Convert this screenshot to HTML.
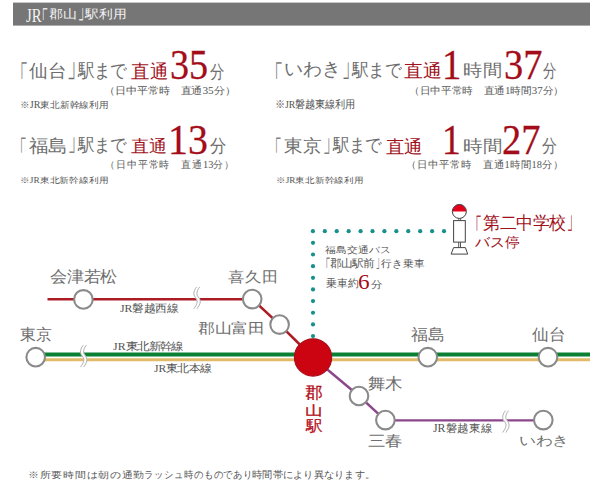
<!DOCTYPE html>
<html lang="ja"><head><meta charset="utf-8"><title>郡山駅利用</title>
<style>
html,body{margin:0;padding:0;background:#fff;}
body{width:600px;height:485px;position:relative;overflow:hidden;font-family:"Liberation Serif",serif;}
svg{position:absolute;left:0;top:0;}
.t{position:absolute;white-space:nowrap;line-height:1;transform-origin:0 0;}
.l{display:inline-block;}
</style></head><body>
<svg width="600" height="485" viewBox="0 0 600 485">
<rect x="13" y="2.6" width="577" height="23" fill="#767676"/>
<path d="M47.5,299.3 H252" stroke="#ab1c24" stroke-width="2.6" fill="none"/>
<path d="M252.2,299.1 L279.6,324.6 L313,357.5" stroke="#ab1c24" stroke-width="2.6" fill="none"/>
<path d="M36,354.55 H590" stroke="#0b8035" stroke-width="4" fill="none"/>
<path d="M36,359.75 H590" stroke="#e2bb6a" stroke-width="3.1" fill="none"/>
<path d="M313,357.5 L359,396 L385.4,420.4 H543" stroke="#8c468b" stroke-width="2.4" fill="none"/>
<path d="M198.20,286.90 C196.30,289.20 195.35,291.50 195.35,293.80 C195.35,296.90 198.75,298.20 198.75,301.30 C198.75,304.40 196.70,306.70 195.35,308.80" stroke="#fff" stroke-width="3.5" fill="none"/><path d="M196.65,286.90 C194.75,289.20 193.80,291.50 193.80,293.80 C193.80,296.90 197.20,298.20 197.20,301.30 C197.20,304.40 195.15,306.70 193.80,308.80" stroke="#a0a0a0" stroke-width="0.85" fill="none"/><path d="M199.75,286.90 C197.85,289.20 196.90,291.50 196.90,293.80 C196.90,296.90 200.30,298.20 200.30,301.30 C200.30,304.40 198.25,306.70 196.90,308.80" stroke="#a0a0a0" stroke-width="0.85" fill="none"/>
<path d="M84.85,345.20 C82.95,347.50 82.00,349.80 82.00,352.10 C82.00,355.20 85.40,356.50 85.40,359.60 C85.40,362.70 83.35,365.00 82.00,367.10" stroke="#fff" stroke-width="3.5" fill="none"/><path d="M83.30,345.20 C81.40,347.50 80.45,349.80 80.45,352.10 C80.45,355.20 83.85,356.50 83.85,359.60 C83.85,362.70 81.80,365.00 80.45,367.10" stroke="#a0a0a0" stroke-width="0.85" fill="none"/><path d="M86.40,345.20 C84.50,347.50 83.55,349.80 83.55,352.10 C83.55,355.20 86.95,356.50 86.95,359.60 C86.95,362.70 84.90,365.00 83.55,367.10" stroke="#a0a0a0" stroke-width="0.85" fill="none"/>
<path d="M507.05,410.60 C505.15,412.90 504.20,415.20 504.20,417.50 C504.20,420.60 507.60,421.90 507.60,425.00 C507.60,428.10 505.55,430.40 504.20,432.50" stroke="#fff" stroke-width="3.5" fill="none"/><path d="M505.50,410.60 C503.60,412.90 502.65,415.20 502.65,417.50 C502.65,420.60 506.05,421.90 506.05,425.00 C506.05,428.10 504.00,430.40 502.65,432.50" stroke="#a0a0a0" stroke-width="0.85" fill="none"/><path d="M508.60,410.60 C506.70,412.90 505.75,415.20 505.75,417.50 C505.75,420.60 509.15,421.90 509.15,425.00 C509.15,428.10 507.10,430.40 505.75,432.50" stroke="#a0a0a0" stroke-width="0.85" fill="none"/>
<g fill="#17908c"><circle cx="312.90" cy="231.2" r="2.1"/><circle cx="324.82" cy="231.2" r="2.1"/><circle cx="336.74" cy="231.2" r="2.1"/><circle cx="348.66" cy="231.2" r="2.1"/><circle cx="360.58" cy="231.2" r="2.1"/><circle cx="372.50" cy="231.2" r="2.1"/><circle cx="384.42" cy="231.2" r="2.1"/><circle cx="396.34" cy="231.2" r="2.1"/><circle cx="408.26" cy="231.2" r="2.1"/><circle cx="420.18" cy="231.2" r="2.1"/><circle cx="432.10" cy="231.2" r="2.1"/><circle cx="444.02" cy="231.2" r="2.1"/><circle cx="313" cy="242.85" r="2.1"/><circle cx="313" cy="254.50" r="2.1"/><circle cx="313" cy="266.15" r="2.1"/><circle cx="313" cy="277.80" r="2.1"/><circle cx="313" cy="289.45" r="2.1"/><circle cx="313" cy="301.10" r="2.1"/><circle cx="313" cy="312.75" r="2.1"/><circle cx="313" cy="324.40" r="2.1"/><circle cx="313" cy="336.05" r="2.1"/></g>
<circle cx="35.7" cy="357.2" r="9.3" fill="#fff" stroke="#8a8a8a" stroke-width="2.1"/>
<circle cx="83.4" cy="299.4" r="9.3" fill="#fff" stroke="#8a8a8a" stroke-width="2.1"/>
<circle cx="252.2" cy="299.1" r="9.3" fill="#fff" stroke="#8a8a8a" stroke-width="2.1"/>
<circle cx="279.6" cy="324.6" r="9.3" fill="#fff" stroke="#8a8a8a" stroke-width="2.1"/>
<circle cx="427.8" cy="357.2" r="9.3" fill="#fff" stroke="#8a8a8a" stroke-width="2.1"/>
<circle cx="548" cy="357.2" r="9.3" fill="#fff" stroke="#8a8a8a" stroke-width="2.1"/>
<circle cx="359" cy="396" r="9.3" fill="#fff" stroke="#8a8a8a" stroke-width="2.1"/>
<circle cx="385.4" cy="420.1" r="9.3" fill="#fff" stroke="#8a8a8a" stroke-width="2.1"/>
<circle cx="543.3" cy="420.1" r="9.3" fill="#fff" stroke="#8a8a8a" stroke-width="2.1"/>
<circle cx="313.05" cy="357.45" r="18.6" fill="#cc0412" stroke="#a8101a" stroke-width="1.2"/>
<path d="M452.35,211.6 A7,7 0 0 1 466.35,211.6 Z" fill="#e3001b"/>
<circle cx="459.35" cy="211.45" r="7" fill="none" stroke="#3a3a3a" stroke-width="1"/>
<path d="M458.8,218.5 V220.6 M460.6,218.5 V220.6" stroke="#444" stroke-width="0.8"/>
<rect x="453.6" y="220.6" width="11.7" height="21.5" fill="#fff" stroke="#444" stroke-width="1"/>
<path d="M458.7,242.1 V247.6 M460.5,242.1 V247.6" stroke="#444" stroke-width="0.9"/>
<path d="M453.6,247.6 H465.4 L467.7,254.1 H451.1 Z" fill="#fff" stroke="#444" stroke-width="1"/>
</svg>
<div id="hdr1" class="t" style="left:26.39px;top:6.95px;font-size:14.5px;color:#f4f4f4;transform:scale(1.0152,1.2569)">JR</div>
<div id="hdr2" class="t" style="left:34.94px;top:8.94px;font-size:13.9px;color:#f4f4f4;transform:scale(0.9783,1.6706);-webkit-text-stroke:0.12px #f4f4f4">「</div>
<div id="hdr3" class="t" style="left:49.22px;top:8.20px;font-size:13.3px;color:#f4f4f4;transform:scale(1.0879,0.9302)">郡山</div>
<div id="hdr4" class="t" style="left:78.21px;top:-0.67px;font-size:13.9px;color:#f4f4f4;transform:scale(0.8805,1.7569);-webkit-text-stroke:0.12px #f4f4f4">」</div>
<div id="hdr5" class="t" style="left:84.53px;top:8.34px;font-size:13.9px;color:#f4f4f4;transform:scale(1.0042,0.8756)">駅利用</div>
<div id="r1l_a1" class="t" style="left:12.02px;top:62.18px;font-size:19.5px;color:#6e6e6e;transform:scale(0.8270,1.6854);-webkit-text-stroke:0.12px #6e6e6e">「</div>
<div id="r1l_a2" class="t" style="left:29.01px;top:62.07px;font-size:19.5px;color:#6e6e6e;transform:scale(0.9650,0.9281)">仙台</div>
<div id="r1l_a3" class="t" style="left:67.36px;top:49.12px;font-size:19.8px;color:#6e6e6e;transform:scale(0.9012,1.7125);-webkit-text-stroke:0.12px #6e6e6e">」</div>
<div id="r1l_a4" class="t" style="left:78.45px;top:61.44px;font-size:20.1px;color:#6e6e6e;transform:scale(0.8080,0.9218)">駅まで</div>
<div id="r1l_b" class="t" style="left:130.84px;top:62.71px;font-size:18.6px;color:#a1111c;transform:scale(0.9867,1.0147)">直通</div>
<div id="r1l_c" class="t" style="left:169.91px;top:44.05px;font-size:44.0px;color:#a30c19;transform:scale(0.8668,0.9704);-webkit-text-stroke:0.3px #a30c19">35</div>
<div id="r1l_d" class="t" style="left:210.00px;top:63.80px;font-size:17.5px;color:#6e6e6e;transform:scale(0.8117,1.0236)">分</div>
<div id="r1l_e" class="t" style="left:103.80px;top:85.62px;font-size:11.4px;color:#555555;transform:scale(0.9937,0.8999)">（日中平常時　直通<span class="l">35</span>分）</div>
<div id="r1l_f" class="t" style="left:20.36px;top:101.29px;font-size:10.4px;color:#555555;transform:scale(0.9717,0.9103)">※<span class="l">JR</span>東北新幹線利用</div>
<div id="r1r_a1" class="t" style="left:265.88px;top:62.18px;font-size:19.5px;color:#6e6e6e;transform:scale(0.8780,1.6874);-webkit-text-stroke:0.12px #6e6e6e">「</div>
<div id="r1r_a2" class="t" style="left:283.78px;top:61.25px;font-size:18.9px;color:#6e6e6e;transform:scale(0.9964,0.9494)">いわき</div>
<div id="r1r_a3" class="t" style="left:341.59px;top:49.06px;font-size:19.5px;color:#6e6e6e;transform:scale(0.8377,1.7120);-webkit-text-stroke:0.12px #6e6e6e">」</div>
<div id="r1r_a4" class="t" style="left:352.22px;top:61.44px;font-size:19.3px;color:#6e6e6e;transform:scale(0.8588,0.9168)">駅まで</div>
<div id="r1r_b" class="t" style="left:404.14px;top:62.84px;font-size:17.6px;color:#a1111c;transform:scale(1.0501,1.0000)">直通</div>
<div id="r1r_c" class="t" style="left:442.30px;top:43.15px;font-size:43.0px;color:#a30c19;transform:scale(0.9008,0.9953);-webkit-text-stroke:0.3px #a30c19">1</div>
<div id="r1r_d" class="t" style="left:462.95px;top:62.75px;font-size:17.7px;color:#6e6e6e;transform:scale(1.0848,0.9593)">時間</div>
<div id="r1r_e" class="t" style="left:503.63px;top:43.19px;font-size:43.0px;color:#a30c19;transform:scale(0.8926,0.9873);-webkit-text-stroke:0.3px #a30c19">37</div>
<div id="r1r_f" class="t" style="left:543.00px;top:62.35px;font-size:17.0px;color:#6e6e6e;transform:scale(0.7830,1.0560)">分</div>
<div id="r1r_g" class="t" style="left:408.81px;top:85.55px;font-size:11.2px;color:#555555;transform:scale(0.9702,0.9103)">（日中平常時　直通<span class="l">1</span>時間<span class="l">37</span>分）</div>
<div id="r1r_h" class="t" style="left:274.71px;top:99.28px;font-size:10.8px;color:#555555;transform:scale(0.9071,0.9800)">※<span class="l">JR</span>磐越東線利用</div>
<div id="r2l_a1" class="t" style="left:13.14px;top:138.14px;font-size:18.5px;color:#6e6e6e;transform:scale(0.7442,1.6187);-webkit-text-stroke:0.12px #6e6e6e">「</div>
<div id="r2l_a2" class="t" style="left:29.28px;top:138.00px;font-size:19.9px;color:#6e6e6e;transform:scale(0.9577,0.8901)">福島</div>
<div id="r2l_a3" class="t" style="left:68.21px;top:125.29px;font-size:18.5px;color:#6e6e6e;transform:scale(0.8492,1.6985);-webkit-text-stroke:0.12px #6e6e6e">」</div>
<div id="r2l_a4" class="t" style="left:78.26px;top:136.26px;font-size:19.3px;color:#6e6e6e;transform:scale(0.8395,0.9140)">駅まで</div>
<div id="r2l_b" class="t" style="left:130.78px;top:138.36px;font-size:17.4px;color:#a1111c;transform:scale(1.0498,0.9914)">直通</div>
<div id="r2l_c" class="t" style="left:168.42px;top:118.74px;font-size:44.0px;color:#a30c19;transform:scale(0.9065,0.9711);-webkit-text-stroke:0.3px #a30c19">13</div>
<div id="r2l_d" class="t" style="left:210.00px;top:137.46px;font-size:17.0px;color:#6e6e6e;transform:scale(0.9753,1.0777)">分</div>
<div id="r2l_e" class="t" style="left:105.00px;top:160.04px;font-size:9.5px;color:#555555;transform:scale(1.0896,1.1009)">（日中平常時　直通<span class="l">13</span>分）</div>
<div id="r2l_f" class="t" style="left:20.34px;top:177.23px;font-size:7.6px;color:#555555;transform:scale(1.2314,1.0206)">※<span class="l">JR</span>東北新幹線利用</div>
<div id="r2r_a1" class="t" style="left:268.14px;top:138.14px;font-size:18.5px;color:#6e6e6e;transform:scale(0.7442,1.6187);-webkit-text-stroke:0.12px #6e6e6e">「</div>
<div id="r2r_a2" class="t" style="left:283.62px;top:137.18px;font-size:19.9px;color:#6e6e6e;transform:scale(0.9556,0.9289)">東京</div>
<div id="r2r_a3" class="t" style="left:323.09px;top:125.63px;font-size:18.5px;color:#6e6e6e;transform:scale(0.8206,1.6963);-webkit-text-stroke:0.12px #6e6e6e">」</div>
<div id="r2r_a4" class="t" style="left:333.26px;top:136.26px;font-size:19.3px;color:#6e6e6e;transform:scale(0.8395,0.9140)">駅まで</div>
<div id="r2r_b" class="t" style="left:386.27px;top:138.92px;font-size:17.4px;color:#a1111c;transform:scale(1.0397,1.0125)">直通</div>
<div id="r2r_c" class="t" style="left:442.03px;top:119.94px;font-size:42.9px;color:#a30c19;transform:scale(0.8773,0.9787);-webkit-text-stroke:0.3px #a30c19">1</div>
<div id="r2r_d" class="t" style="left:463.04px;top:138.02px;font-size:17.7px;color:#6e6e6e;transform:scale(1.1214,0.9759)">時間</div>
<div id="r2r_e" class="t" style="left:501.94px;top:119.15px;font-size:42.9px;color:#a30c19;transform:scale(0.8955,0.9917);-webkit-text-stroke:0.3px #a30c19">27</div>
<div id="r2r_f" class="t" style="left:541.59px;top:137.14px;font-size:17.0px;color:#6e6e6e;transform:scale(0.8953,1.0800)">分</div>
<div id="r2r_g" class="t" style="left:406.17px;top:160.66px;font-size:9.5px;color:#555555;transform:scale(1.0943,1.0558)">（日中平常時　直通<span class="l">1</span>時間<span class="l">18</span>分）</div>
<div id="r2r_h" class="t" style="left:276.38px;top:176.79px;font-size:7.6px;color:#555555;transform:scale(1.2159,1.0212)">※<span class="l">JR</span>東北新幹線利用</div>
<div id="m_aizu" class="t" style="left:50.10px;top:269.13px;font-size:16.2px;color:#6e6e6e;transform:scale(1.0518,0.9831)">会津若松</div>
<div id="m_kita" class="t" style="left:227.57px;top:269.60px;font-size:15.1px;color:#6e6e6e;transform:scale(1.1179,1.0191)">喜久田</div>
<div id="m_tomi" class="t" style="left:198.09px;top:322.23px;font-size:15.0px;color:#6e6e6e;transform:scale(1.1053,0.9119)">郡山富田</div>
<div id="m_tokyo" class="t" style="left:19.87px;top:327.22px;font-size:13.7px;color:#6e6e6e;transform:scale(1.1577,1.1637)">東京</div>
<div id="m_fuku" class="t" style="left:411.19px;top:327.36px;font-size:15.0px;color:#6e6e6e;transform:scale(1.1393,1.0769)">福島</div>
<div id="m_sendai" class="t" style="left:531.72px;top:327.26px;font-size:15.0px;color:#6e6e6e;transform:scale(1.1073,1.0588)">仙台</div>
<div id="m_maigi" class="t" style="left:368.30px;top:376.09px;font-size:16.2px;color:#6e6e6e;transform:scale(1.0552,0.9656)">舞木</div>
<div id="m_miharu" class="t" style="left:368.37px;top:434.34px;font-size:15.1px;color:#6e6e6e;transform:scale(1.1362,0.9699)">三春</div>
<div id="m_iwaki" class="t" style="left:519.19px;top:434.60px;font-size:15.1px;color:#6e6e6e;transform:scale(1.1061,0.8561)">いわき</div>
<div id="m_kori1" class="t" style="left:305.06px;top:386.17px;font-size:16.8px;color:#b3101c;transform:scale(1.0395,0.9344);-webkit-text-stroke:0.3px #b3101c">郡</div>
<div id="m_kori2" class="t" style="left:304.53px;top:403.61px;font-size:16.2px;color:#b3101c;transform:scale(1.1320,0.8321);-webkit-text-stroke:0.3px #b3101c">山</div>
<div id="m_kori3" class="t" style="left:306.13px;top:418.56px;font-size:17.9px;color:#b3101c;transform:scale(0.9108,0.8250);-webkit-text-stroke:0.3px #b3101c">駅</div>
<div id="m_banw" class="t" style="left:120.09px;top:302.94px;font-size:10.3px;color:#555555;transform:scale(1.1464,1.0653)"><span class="l">JR</span>磐越西線</div>
<div id="m_shin" class="t" style="left:113.26px;top:342.31px;font-size:10.4px;color:#555555;transform:scale(1.1461,1.0098)"><span class="l">JR</span>東北新幹線</div>
<div id="m_hon" class="t" style="left:154.20px;top:364.02px;font-size:10.4px;color:#555555;transform:scale(1.1177,1.0249)"><span class="l">JR</span>東北本線</div>
<div id="m_bane" class="t" style="left:433.10px;top:423.37px;font-size:11.2px;color:#555555;transform:scale(1.0610,1.0182)"><span class="l">JR</span>磐越東線</div>
<div id="b1" class="t" style="left:325.14px;top:245.89px;font-size:8.5px;color:#555555;transform:scale(1.2138,1.0144)">福島交通バス</div>
<div id="b2a" class="t" style="left:321.02px;top:258.00px;font-size:12.1px;color:#555555;transform:scale(0.7680,1.6259);-webkit-text-stroke:0.12px #555555">「</div>
<div id="b2b" class="t" style="left:330.36px;top:258.23px;font-size:12.1px;color:#555555;transform:scale(0.9298,0.8752)">郡山駅前</div>
<div id="b2c" class="t" style="left:375.69px;top:249.09px;font-size:12.1px;color:#555555;transform:scale(0.5692,1.7775);-webkit-text-stroke:0.12px #555555">」</div>
<div id="b2d" class="t" style="left:381.22px;top:258.45px;font-size:12.1px;color:#555555;transform:scale(0.9075,0.8578)">行き乗車</div>
<div id="b3" class="t" style="left:325.89px;top:278.31px;font-size:9.9px;color:#555555;transform:scale(1.0787,1.1062)">乗車約</div>
<div id="b4" class="t" style="left:358.49px;top:272.37px;font-size:20.5px;color:#a30c19;transform:scale(1.1332,1.0000)">6</div>
<div id="b5" class="t" style="left:371.14px;top:279.72px;font-size:9.9px;color:#555555;transform:scale(1.1379,0.9961)">分</div>
<div id="bs1a" class="t" style="left:468.68px;top:215.86px;font-size:17.8px;color:#a1111c;transform:scale(0.7244,1.6892);-webkit-text-stroke:0.12px #a1111c">「</div>
<div id="bs1b" class="t" style="left:482.73px;top:213.61px;font-size:19.0px;color:#a1111c;transform:scale(0.8707,0.9257)">第二中学校</div>
<div id="bs1c" class="t" style="left:567.09px;top:202.16px;font-size:18.4px;color:#a1111c;transform:scale(0.6411,1.7074);-webkit-text-stroke:0.12px #a1111c">」</div>
<div id="bs2" class="t" style="left:474.72px;top:235.97px;font-size:13.9px;color:#a1111c;transform:scale(1.0851,1.0269)">バス停</div>
<div id="foot1" class="t" style="left:27.62px;top:470.51px;font-size:11.5px;color:#555555;transform:scale(0.9761,0.8045)">※所要時間は朝の通勤</div>
<div id="foot2" class="t" style="left:143.94px;top:470.08px;font-size:11.5px;color:#555555;transform:scale(0.8281,0.8850)">ラッシュ時のものであり</div>
<div id="foot3" class="t" style="left:252.00px;top:470.21px;font-size:11.5px;color:#555555;transform:scale(0.8560,0.8368)">時間帯により異なります。</div>
</body></html>
